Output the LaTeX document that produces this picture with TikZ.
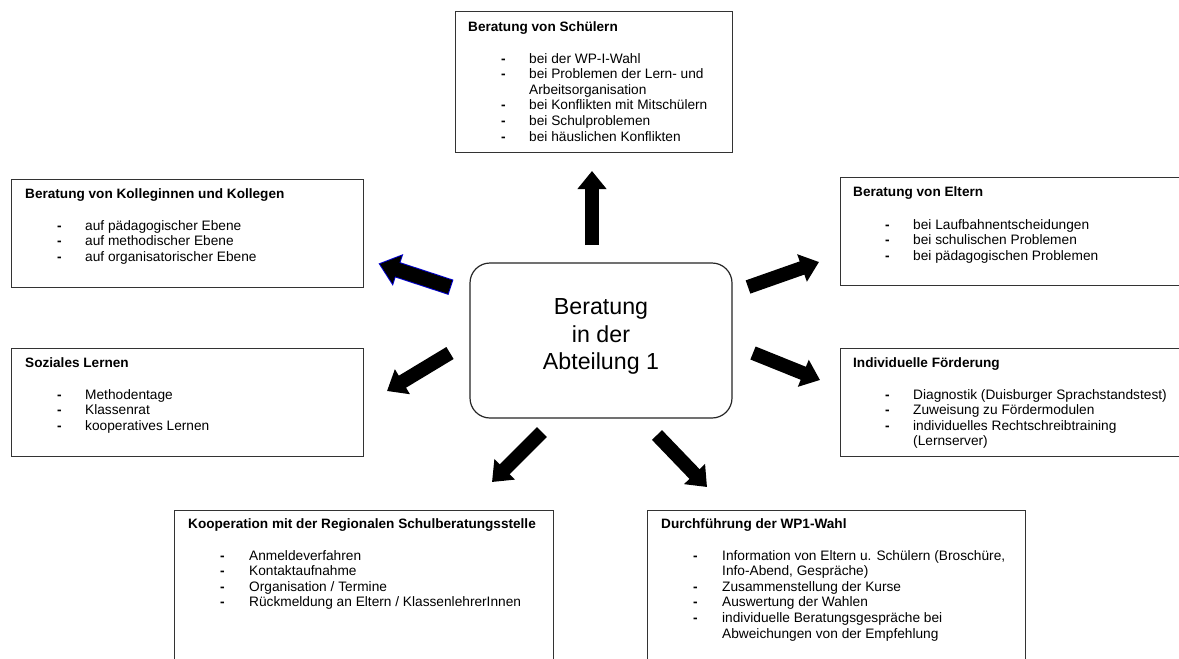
\documentclass[tikz,border=0pt]{standalone}
\usepackage{fontspec}
\setmainfont{Liberation Sans}
\usetikzlibrary{arrows.meta}
\newcommand\dsh{\textbf{-}}
\begin{document}
\begin{tikzpicture}[x=1pt,y=-1pt,
  box/.style={draw=black!80,line width=1.2pt,anchor=north west,inner sep=0pt},
  ttl/.style={anchor=base west,inner sep=0pt,font=\fontsize{13.6}{15.6}\selectfont\bfseries},
  lst/.style={anchor=base west,inner sep=0pt,font=\fontsize{13.7}{15.6}\selectfont},
  ctrbox/.style={draw=black!85,line width=1.2pt,rounded corners=20pt,minimum width=262pt,minimum height=155pt,inner sep=0pt},
  ctrtext/.style={align=center,inner sep=0pt,font=\fontsize{23.2}{27.5}\selectfont},
  bigarrow/.style={line width=14pt,-{Triangle[width=28pt,length=18pt]}},
  bluearrow/.style={draw=blue!80!black,line width=16pt,shorten >=-1.6pt,shorten <=-1pt,-{Triangle[width=32pt,length=20.6pt]}},
]
\useasboundingbox (0,0) rectangle (1179,659);
\clip (0,0) rectangle (1179,659);
\fill[white] (0,0) rectangle (1179,659);

% centre
\node[ctrbox] (ctr) at (601,340.5) {};
\node[ctrtext] (ctrt) at (601,336.5) {Beratung\\in der\\Abteilung 1};

% top box
\node[box,minimum width=277pt,minimum height=141pt] (top) at (455,11) {};
\node[ttl] (topt) at (468,31) {Beratung von Schülern};
\node[lst] (topl) at (501,63) {\begin{tabular}[t]{@{}p{28pt}@{}l@{}}
\dsh&bei der WP-I-Wahl\\
\dsh&bei Problemen der Lern- und\\
&Arbeitsorganisation\\
\dsh&bei Konflikten mit Mitschülern\\
\dsh&bei Schulproblemen\\
\dsh&bei häuslichen Konflikten
\end{tabular}};

% Kollegen
\node[box,minimum width=352pt,minimum height=108pt] (koll) at (11,179) {};
\node[ttl] (kollt) at (25,198) {Beratung von Kolleginnen und Kollegen};
\node[lst] (kolll) at (57,230) {\begin{tabular}[t]{@{}p{28pt}@{}l@{}}
\dsh&auf pädagogischer Ebene\\
\dsh&auf methodischer Ebene\\
\dsh&auf organisatorischer Ebene
\end{tabular}};

% Eltern
\node[box,minimum width=360pt,minimum height=108pt] (elt) at (840,177) {};
\node[ttl] (eltt) at (853,196) {Beratung von Eltern};
\node[lst] (eltl) at (885,229) {\begin{tabular}[t]{@{}p{28pt}@{}l@{}}
\dsh&bei Laufbahnentscheidungen\\
\dsh&bei schulischen Problemen\\
\dsh&bei pädagogischen Problemen
\end{tabular}};

% Soziales Lernen
\node[box,minimum width=352pt,minimum height=108pt] (soz) at (11,348) {};
\node[ttl] (sozt) at (25,367) {Soziales Lernen};
\node[lst] (sozl) at (57,399) {\begin{tabular}[t]{@{}p{28pt}@{}l@{}}
\dsh&Methodentage\\
\dsh&Klassenrat\\
\dsh&kooperatives Lernen
\end{tabular}};

% Foerderung
\node[box,minimum width=360pt,minimum height=108pt] (foe) at (840,348) {};
\node[ttl] (foet) at (853,367) {Individuelle Förderung};
\node[lst] (foel) at (885,399) {\begin{tabular}[t]{@{}p{28pt}@{}l@{}}
\dsh&Diagnostik (Duisburger Sprachstandstest)\\
\dsh&Zuweisung zu Fördermodulen\\
\dsh&individuelles Rechtschreibtraining\\
&(Lernserver)
\end{tabular}};

% Kooperation
\node[box,minimum width=379pt,minimum height=170pt] (koop) at (174,510) {};
\node[ttl] (koopt) at (188,528) {Kooperation mit der Regionalen Schulberatungsstelle};
\node[lst] (koopl) at (220,560) {\begin{tabular}[t]{@{}p{29pt}@{}l@{}}
\dsh&Anmeldeverfahren\\
\dsh&Kontaktaufnahme\\
\dsh&Organisation / Termine\\
\dsh&Rückmeldung an Eltern / KlassenlehrerInnen
\end{tabular}};

% Durchfuehrung
\node[box,minimum width=378pt,minimum height=170pt] (dur) at (647,510) {};
\node[ttl] (durt) at (661,528) {Durchführung der WP1-Wahl};
\node[lst] (durl) at (693,560) {\begin{tabular}[t]{@{}p{29pt}@{}l@{}}
\dsh&Information von Eltern u. Schülern (Broschüre,\\
&Info-Abend, Gespräche)\\
\dsh&Zusammenstellung der Kurse\\
\dsh&Auswertung der Wahlen\\
\dsh&individuelle Beratungsgespräche bei\\
&Abweichungen von der Empfehlung
\end{tabular}};

% arrow end points
\coordinate (aUt) at (592,245);  \coordinate (aUh) at (592,171);
\coordinate (aULt) at (450,287); \coordinate (aULh) at (380,264);
\coordinate (aURt) at (748,287); \coordinate (aURh) at (819,262);
\coordinate (aMLt) at (450,353); \coordinate (aMLh) at (387,391);
\coordinate (aMRt) at (753,353); \coordinate (aMRh) at (820,380);
\coordinate (aBLt) at (542,432); \coordinate (aBLh) at (492,482);
\coordinate (aBRt) at (657,435); \coordinate (aBRh) at (707,487);

\draw[bigarrow] (aUt) -- (aUh);
\draw[bluearrow] (aULt) -- (aULh);
\draw[bigarrow] (aULt) -- (aULh);
\draw[bigarrow] (aURt) -- (aURh);
\draw[bigarrow] (aMLt) -- (aMLh);
\draw[bigarrow] (aMRt) -- (aMRh);
\draw[bigarrow] (aBLt) -- (aBLh);
\draw[bigarrow] (aBRt) -- (aBRh);
\end{tikzpicture}
\end{document}
